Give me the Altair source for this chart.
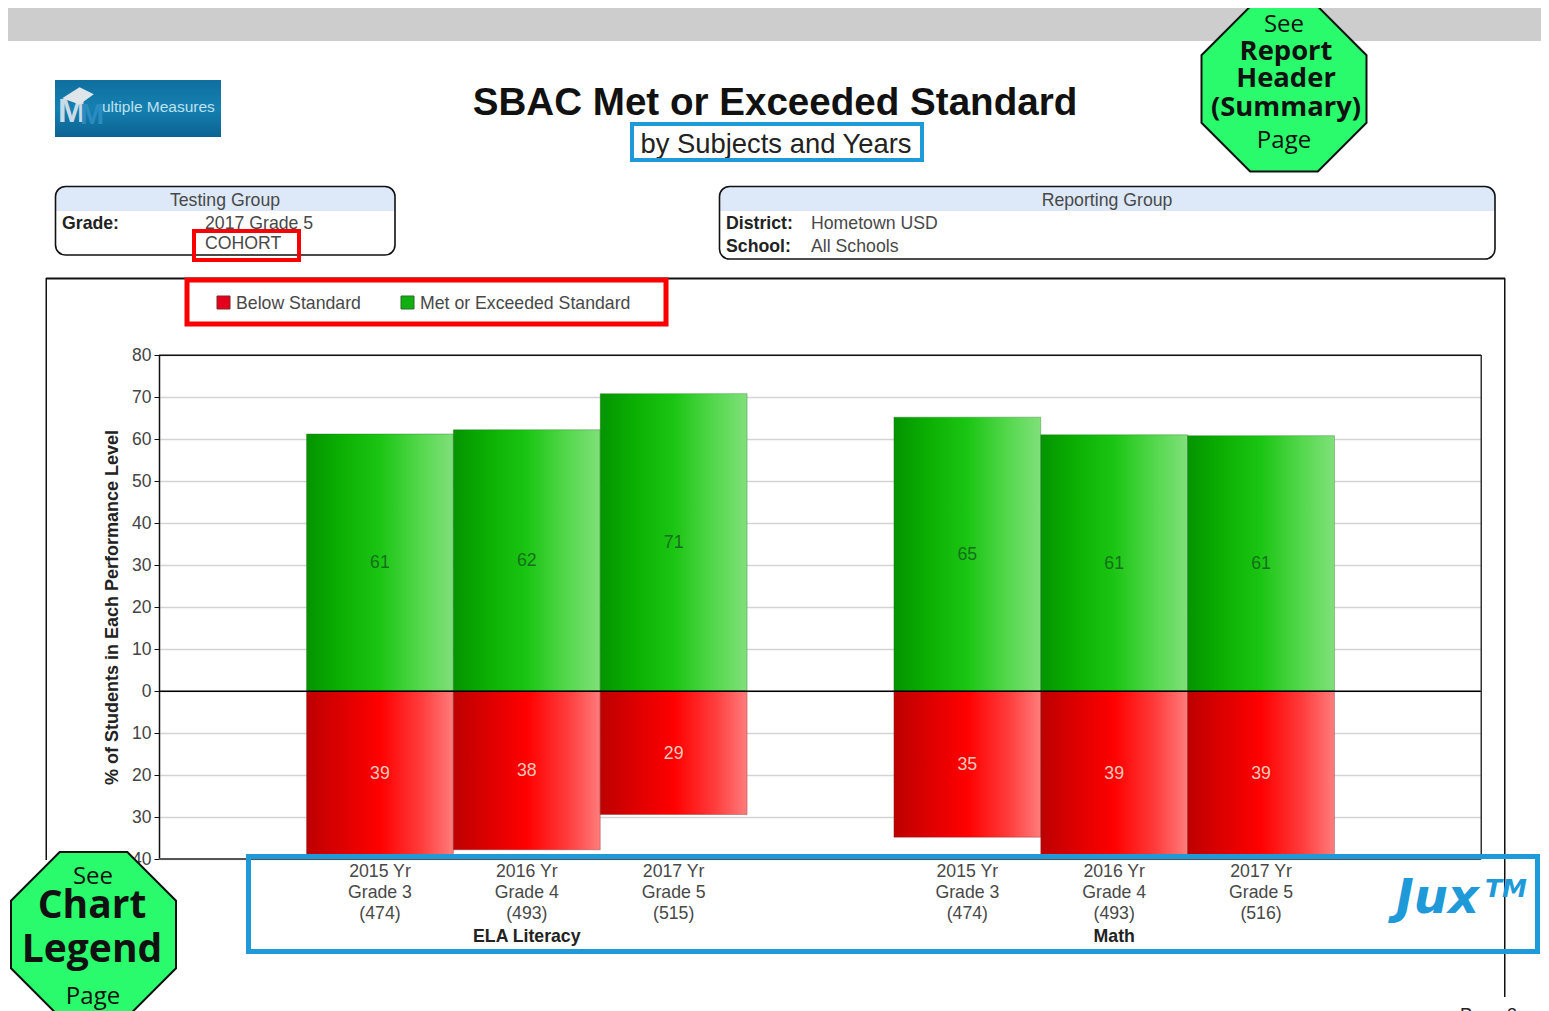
import altair as alt
import pandas as pd

# ---- chart data ----
BLANKS = ["_a", "_b", "_c"]
CATS = ["ELA15", "ELA16", "ELA17", "MATH15", "MATH16", "MATH17"]
MET = [61.2, 62.2, 70.8, 65.2, 61.0, 60.8]
BELOW = [39.2, 37.8, 29.4, 34.8, 39.2, 39.2]
MET_LABELS = ["61", "62", "71", "65", "61", "61"]
BELOW_LABELS = ["39", "38", "29", "35", "39", "39"]
YEARS = ["2015 Yr", "2016 Yr", "2017 Yr", "2015 Yr", "2016 Yr", "2017 Yr"]
GRADES = ["Grade 3", "Grade 4", "Grade 5", "Grade 3", "Grade 4", "Grade 5"]
COUNTS = ["(474)", "(493)", "(515)", "(474)", "(493)", "(516)"]
GROUP_CATS = ["ELA16", "MATH16"]
GROUP_NAMES = ["ELA Literacy", "Math"]
Y_TICKS = [-40, -30, -20, -10, 0, 10, 20, 30, 40, 50, 60, 70, 80]

SANS = "Liberation Sans"
CAL = "Open Sans"
INK = "#484848"
RED_BOX = "#fa0000"
BLUE_BOX = "#1f9ad8"
OCT = "#29fb6c"
OCT_PATH = "M-.41,-1L.41,-1L1,-.41L1,.41L.41,1L-.41,1L-1,.41L-1,-.41Z"
CUBE_PATH = "M-1,-.3L.1,-1L1,-.55L.1,.1Z"

DOMAIN_X = [BLANKS[0]] + CATS[:3] + [BLANKS[1]] + CATS[3:] + [BLANKS[2]]
df = pd.DataFrame({
    "cat": CATS, "met": MET, "below": [-v for v in BELOW],
    "met_mid": [v / 2 for v in MET], "below_mid": [-v / 2 for v in BELOW],
    "met_label": MET_LABELS, "below_label": BELOW_LABELS,
    "year": YEARS, "grade": GRADES, "n": COUNTS, "zero": [0] * 6,
})
groups = pd.DataFrame({"cat": GROUP_CATS, "name": GROUP_NAMES})

xs = alt.Scale(domain=DOMAIN_X, range=[151.7, 1473.3], paddingInner=0, paddingOuter=0, round=False)
ys = alt.Scale(domain=[-40, 80], range=[851, 347], nice=False, zero=False)
X = alt.X("cat:N", scale=xs, axis=None, sort=None)
one = alt.InlineData(values=[{"k": 1}])


def grad(stops, horizontal=True):
    n = [{"color": c, "offset": o} for o, c in stops]
    return {"gradient": "linear", "stops": n, "x1": 0, "y1": 0,
            "x2": 1 if horizontal else 0, "y2": 0 if horizontal else 1}


def box(x0, y0, x1, y1, **kw):
    return alt.Chart(one).mark_rect(**kw).encode(
        x=alt.value(x0 - 8), x2=alt.value(x1 - 8), y=alt.value(y0 - 8), y2=alt.value(y1 - 8))


def label(s, x, y, size=17.7, color=INK, font=SANS, align="left", **kw):
    return alt.Chart(one).mark_text(text=s, font=font, fontSize=size, color=color, align=align,
                                    baseline="middle", **kw).encode(
        x=alt.value(x - 8), y=alt.value(y - 6.5))


def octagon(cx, cy, size):
    return alt.Chart(one).mark_point(shape=OCT_PATH, size=size * size, filled=True, fill=OCT, opacity=1,
                                     stroke="#111111", strokeWidth=2).encode(
        x=alt.value(cx - 8), y=alt.value(cy - 8))


green = grad([(0, "#049400"), (0.22, "#0aae02"), (0.5, "#1bc513"), (0.78, "#55d84e"), (1, "#80e07a")])
red = grad([(0, "#bd0000"), (0.2, "#d80000"), (0.5, "#ff0000"), (0.78, "#ff3c3c"), (1, "#ff7c7c")])
logo = grad([(0, "#0f6f9f"), (0.5, "#1580b0"), (1, "#0b6393")], False)

layers = [
    box(0, 8, 1549, 41, fill="#cdcdcd"),
    # logo
    box(55, 80, 221, 137, fill=logo),
    label("M", 58, 110, 33, "#c9dbe6", "Liberation Sans", fontWeight="bold"),
    label("M", 80, 113, 29, "#2a8cc0", "Liberation Sans", fontWeight="bold"),
    alt.Chart(one).mark_point(shape=CUBE_PATH, size=1000, filled=True, fill="#dfe6ea", opacity=1).encode(
        x=alt.value(78 - 8), y=alt.value(103 - 8)),
    label("ultiple Measures", 102, 105, 15.5, "#bfe0ee"),
    # titles
    label("SBAC Met or Exceeded Standard", 775, 101, 38.6, "#111111", align="center", fontWeight="bold"),
    label("by Subjects and Years", 776, 143, 27.4, "#222222", align="center"),
    # info boxes
    box(55.5, 186.5, 395, 211, fill="#dde8f8", cornerRadiusTopLeft=9, cornerRadiusTopRight=9),
    box(55.5, 186.5, 395, 255, fillOpacity=0, stroke="#111111", strokeWidth=1.6, cornerRadius=10),
    label("Testing Group", 225, 199, align="center"),
    label("Grade:", 62, 222, color="#222222", fontWeight="bold"),
    label("2017 Grade 5", 205, 222),
    label("COHORT", 205, 242),
    box(719.5, 186.5, 1495, 211, fill="#dde8f8", cornerRadiusTopLeft=9, cornerRadiusTopRight=9),
    box(719.5, 186.5, 1495, 259, fillOpacity=0, stroke="#111111", strokeWidth=1.6, cornerRadius=10),
    label("Reporting Group", 1107, 199, align="center"),
    label("District:", 726, 222, color="#222222", fontWeight="bold"),
    label("Hometown USD", 811, 222),
    label("School:", 726, 245, color="#222222", fontWeight="bold"),
    label("All Schools", 811, 245),
    # chart frame
    box(46, 277.5, 1505, 279.5, fill="#111111"),
    box(45.5, 278, 47, 860, fill="#111111"),
    box(1504, 278, 1505.5, 997, fill="#111111"),
    # legend
    box(217, 296, 230, 309, fill="#e5001b", stroke="#7a2a2a", strokeWidth=1),
    label("Below Standard", 236, 302),
    box(401, 296, 414, 309, fill="#10b010", stroke="#2a6a2a", strokeWidth=1),
    label("Met or Exceeded Standard", 420, 302),
    # bars with y axis
    alt.Chart(df).mark_bar(color=green, stroke="#1c6a1c", strokeOpacity=0.35, strokeWidth=1).encode(
        x=X,
        y=alt.Y("met:Q", scale=ys, axis=alt.Axis(
            values=Y_TICKS, labelExpr="abs(datum.value)", title="% of Students in Each Performance Level",
            offset=-151,
            titleFont=SANS, titleFontSize=18, titleFontWeight="bold", titleColor="#222222", titlePadding=10,
            labelFont=SANS, labelFontSize=17.5, labelColor="#444444", labelPadding=3,
            tickColor="#111111", tickSize=5, domainColor="#111111", domainWidth=1.5,
            grid=True, gridColor="#d4d4d4", gridWidth=1.3)),
        y2=alt.Y2("zero:Q")),
    alt.Chart(df).mark_bar(color=red, stroke="#7a1c1c", strokeOpacity=0.35, strokeWidth=1).encode(
        x=X, y=alt.Y("zero:Q", scale=ys), y2=alt.Y2("below:Q")),
    alt.Chart(df).mark_text(font=SANS, fontSize=17.7, color="#14701a", dy=1).encode(
        x=X, y=alt.Y("met_mid:Q", scale=ys), text="met_label:N"),
    alt.Chart(df).mark_text(font=SANS, fontSize=17.7, color="#f4c8b8", dy=1).encode(
        x=X, y=alt.Y("below_mid:Q", scale=ys), text="below_label:N"),
    # zero and frame lines of the plot
    box(159, 690.5, 1481, 692, fill="#000000"),
    box(159, 354.5, 1481, 356, fill="#111111"),
    box(1480.5, 355, 1482, 858, fill="#333333"),
    box(159, 858, 1481, 860, fill="#555555"),
    # call-out boxes
    box(632, 124, 922, 160, fillOpacity=0, stroke=BLUE_BOX, strokeWidth=4),
    box(194, 231, 299, 260, fillOpacity=0, stroke=RED_BOX, strokeWidth=4),
    box(187, 280, 666, 324, fillOpacity=0, stroke=RED_BOX, strokeWidth=5),
    box(248.5, 856.5, 1537.5, 951.5, fillOpacity=0, stroke=BLUE_BOX, strokeWidth=5),
    # category labels
    alt.Chart(df).mark_text(font=SANS, fontSize=17.7, color=INK, baseline="middle").encode(
        x=X, y=alt.value(870 - 6.5), text="year:N"),
    alt.Chart(df).mark_text(font=SANS, fontSize=17.7, color=INK, baseline="middle").encode(
        x=X, y=alt.value(891 - 6.5), text="grade:N"),
    alt.Chart(df).mark_text(font=SANS, fontSize=17.7, color=INK, baseline="middle").encode(
        x=X, y=alt.value(912 - 6.5), text="n:N"),
    alt.Chart(groups).mark_text(font=SANS, fontSize=17.7, fontWeight="bold", color="#222222", baseline="middle").encode(
        x=X, y=alt.value(935 - 6.5), text="name:N"),
    # brand
    label("Jux", 1396, 897, 48, BLUE_BOX, "DejaVu Sans", fontWeight="bold", fontStyle="italic"),
    label("TM", 1485, 887, 25, BLUE_BOX, "DejaVu Sans", fontWeight="bold", fontStyle="italic"),
    label("Page 3", 1460, 1014, 18, "#222222"),
    # octagons
    octagon(1284, 89, 165),
    label("See", 1284, 23, 24, "#111111", CAL, "center"),
    label("Report", 1286, 50, 27.4, "#111111", CAL, "center", fontWeight="bold"),
    label("Header", 1286, 77, 27.4, "#111111", CAL, "center", fontWeight="bold"),
    label("(Summary)", 1286, 106, 27.4, "#111111", CAL, "center", fontWeight="bold"),
    label("Page", 1284, 139, 24, "#111111", CAL, "center"),
    octagon(93.5, 934.5, 165),
    label("See", 93, 875, 24, "#111111", CAL, "center"),
    label("Chart", 92, 904, 39, "#111111", CAL, "center", fontWeight="bold"),
    label("Legend", 92, 948, 39, "#111111", CAL, "center", fontWeight="bold"),
    label("Page", 93, 995, 24, "#111111", CAL, "center"),
]

chart = alt.layer(*layers).properties(
    width=1533, height=1003, padding=0, autosize=alt.AutoSizeParams(type="none")
).configure_view(stroke=None)

chart.save("out.html", embed_options={"renderer": "svg", "actions": False})
